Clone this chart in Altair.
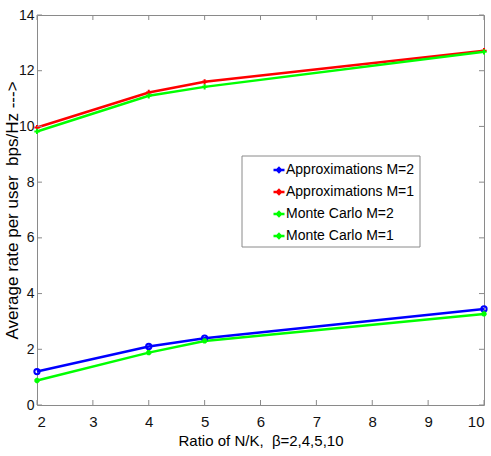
import altair as alt
import pandas as pd

# ---- data ----
ratio = [2, 4, 5, 10]
approx_m2 = [1.20, 2.10, 2.40, 3.45]
approx_m1 = [9.96, 11.22, 11.60, 12.72]
mc_m2 = [0.88, 1.88, 2.30, 3.27]
mc_m1 = [9.82, 11.10, 11.42, 12.68]

series_names = ["Approximations M=2", "Approximations M=1", "Monte Carlo M=2", "Monte Carlo M=1"]
series_colors = ["#0000ff", "#ff0000", "#00ff00", "#00ff00"]
series_markers = [
    "circle",
    "M-1,0H1M0,-1V1",
    "M-1,0H1M0,-1V1M-0.7,-0.7L0.7,0.7M-0.7,0.7L0.7,-0.7",
    "M-1,0H1M0,-1V1",
]
x_ticks = [2, 3, 4, 5, 6, 7, 8, 9, 10]
y_ticks = [0, 2, 4, 6, 8, 10, 12, 14]

W, H = 447, 390
FONT = "Liberation Sans, Arial, Helvetica"

rows = []
for name, vals in zip(series_names, [approx_m2, approx_m1, mc_m2, mc_m1]):
    for xv, v in zip(ratio, vals):
        rows.append({"ratio": xv, "rate": v, "series": name})
df = pd.DataFrame(rows)

xscale = alt.Scale(domain=[2, 10], nice=False)
yscale = alt.Scale(domain=[0, 14], nice=False)
cscale = alt.Scale(domain=series_names, range=series_colors)

x_enc = alt.X("ratio:Q", scale=xscale,
              axis=alt.Axis(values=x_ticks, format="d", title="Ratio of N/K,\u00a0 β=2,4,5,10",
                            titleFontSize=15, titleFontWeight="normal", titlePadding=4))
y_enc = alt.Y("rate:Q", scale=yscale,
              axis=alt.Axis(values=y_ticks, format="d", title="Average rate per user\u00a0 bps/Hz --->",
                            titleFontSize=17, titleFontWeight="normal",
                            titleX=-20, titleY=H / 2, titleBaseline="alphabetic",
                            titleAngle=270, titleAlign="center",
                            labelFontSize=14, labelPadding=3))

legend_box = alt.Chart(alt.Data(values=[{}])).mark_rect(
    fill="white", stroke="#8a8a8a", strokeWidth=1
).encode(x=alt.value(205), x2=alt.value(383), y=alt.value(141), y2=alt.value(232))

lines = alt.Chart(df).mark_line(strokeWidth=2.5).encode(
    x=x_enc,
    y=y_enc,
    color=alt.Color("series:N", scale=cscale,
                    legend=alt.Legend(
                        title=None, orient="none", legendX=235, legendY=148,
                        symbolType="M-1,0H1M0,-0.35L0.35,0L0,0.35L-0.35,0Z",
                        symbolSize=121, symbolStrokeWidth=2.5,
                        labelFont=FONT, labelFontSize=14, labelColor="#000000",
                        labelOffset=0, rowPadding=8, padding=0, labelLimit=300)),
    detail="series:N",
)

point_layers = []
for name, col, mk in zip(series_names, series_colors, series_markers):
    point_layers.append(
        alt.Chart(df).transform_filter(alt.datum.series == name)
        .mark_point(filled=False, size=28, strokeWidth=2, opacity=1, shape=mk, color=col)
        .encode(x=alt.X("ratio:Q", scale=xscale), y=alt.Y("rate:Q", scale=yscale))
    )

xt = pd.DataFrame({"ratio": x_ticks})
yt = pd.DataFrame({"rate": y_ticks})
tick_col = "#8a8a8a"
xb = alt.Chart(xt).mark_rule(color=tick_col).encode(
    x=alt.X("ratio:Q", scale=xscale), y=alt.value(H), y2=alt.value(H - 5))
xtop = alt.Chart(xt).mark_rule(color=tick_col).encode(
    x=alt.X("ratio:Q", scale=xscale), y=alt.value(0), y2=alt.value(5))
yl = alt.Chart(yt).mark_rule(color=tick_col).encode(
    y=alt.Y("rate:Q", scale=yscale), x=alt.value(0), x2=alt.value(5))
yr = alt.Chart(yt).mark_rule(color=tick_col).encode(
    y=alt.Y("rate:Q", scale=yscale), x=alt.value(W - 5), x2=alt.value(W))

chart = alt.layer(lines, *point_layers, xb, xtop, yl, yr, legend_box).properties(
    width=W, height=H,
    autosize=alt.AutoSizeParams(type="none"),
    padding={"left": 37, "top": 15, "right": 7, "bottom": 51},
    background="white",
).configure_view(
    stroke="#8a8a8a", strokeWidth=1
).configure_axis(
    grid=False, domain=False, ticks=False,
    labelFont=FONT, titleFont=FONT, labelFontSize=15, labelColor="#111111",
    titleColor="#000000",
).configure_axisX(labelPadding=9)

chart.save("out.html", embed_options={"renderer": "svg", "actions": False})
